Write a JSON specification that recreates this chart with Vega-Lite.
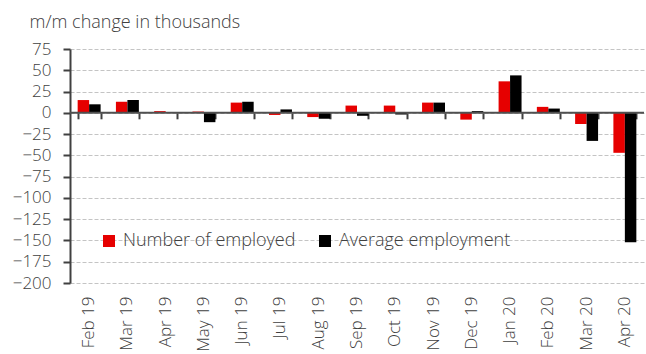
{
  "$schema": "https://vega.github.io/schema/vega-lite/v6.json",
  "width": 574,
  "height": 234,
  "autosize": {"type": "none"},
  "padding": {"left": 70, "top": 49, "right": 2, "bottom": 71},
  "background": "white",
  "config": {
    "view": {"stroke": null},
    "font": "Open Sans",
    "axis": {"labelFont": "Open Sans", "labelFontSize": 17, "labelColor": "#404040", "labelFontWeight": 300, "titleFont": "Open Sans", "labelOverlap": false},
    "legend": {"labelFont": "Open Sans"}
  },
  "data": {
    "values": [
      {"month": "Feb 19", "series": "Number of employed", "value": 15},
      {"month": "Feb 19", "series": "Average employment", "value": 10},
      {"month": "Mar 19", "series": "Number of employed", "value": 13},
      {"month": "Mar 19", "series": "Average employment", "value": 15},
      {"month": "Apr 19", "series": "Number of employed", "value": 2},
      {"month": "Apr 19", "series": "Average employment", "value": 0.5},
      {"month": "May 19", "series": "Number of employed", "value": 1.5},
      {"month": "May 19", "series": "Average employment", "value": -11},
      {"month": "Jun 19", "series": "Number of employed", "value": 12},
      {"month": "Jun 19", "series": "Average employment", "value": 13},
      {"month": "Jul 19", "series": "Number of employed", "value": -2.5},
      {"month": "Jul 19", "series": "Average employment", "value": 4},
      {"month": "Aug 19", "series": "Number of employed", "value": -5},
      {"month": "Aug 19", "series": "Average employment", "value": -7},
      {"month": "Sep 19", "series": "Number of employed", "value": 8.5},
      {"month": "Sep 19", "series": "Average employment", "value": -3.5},
      {"month": "Oct 19", "series": "Number of employed", "value": 8.5},
      {"month": "Oct 19", "series": "Average employment", "value": -2},
      {"month": "Nov 19", "series": "Number of employed", "value": 12},
      {"month": "Nov 19", "series": "Average employment", "value": 12},
      {"month": "Dec 19", "series": "Number of employed", "value": -8},
      {"month": "Dec 19", "series": "Average employment", "value": 2},
      {"month": "Jan 20", "series": "Number of employed", "value": 37},
      {"month": "Jan 20", "series": "Average employment", "value": 44},
      {"month": "Feb 20", "series": "Number of employed", "value": 7},
      {"month": "Feb 20", "series": "Average employment", "value": 5},
      {"month": "Mar 20", "series": "Number of employed", "value": -13},
      {"month": "Mar 20", "series": "Average employment", "value": -33},
      {"month": "Apr 20", "series": "Number of employed", "value": -47},
      {"month": "Apr 20", "series": "Average employment", "value": -152}
    ]
  },
  "layer": [
    {
      "mark": {"type": "bar"},
      "encoding": {
        "x": {
          "field": "month", "type": "nominal", "sort": null,
          "scale": {"paddingInner": 0.4, "paddingOuter": 0.2},
          "axis": {"title": null, "orient": "bottom", "labelAngle": -90, "domain": false, "ticks": false, "grid": false, "labelPadding": 13}
        },
        "xOffset": {"field": "series", "type": "nominal", "sort": ["Number of employed", "Average employment"], "scale": {"paddingInner": 0, "paddingOuter": 0}},
        "y": {
          "field": "value", "type": "quantitative",
          "scale": {"domain": [-200, 75], "nice": false, "zero": false},
          "axis": {
            "values": [-200, -175, -150, -125, -100, -75, -50, -25, 0, 25, 50, 75],
            "labelOverlap": false,
            "grid": true, "gridColor": "#c4c4c4", "gridDash": [4, 2], "gridWidth": 1,
            "domain": true, "domainColor": "#404040", "domainWidth": 2,
            "ticks": true, "tickColor": "#404040", "tickSize": 7, "tickWidth": 2,
            "labelPadding": 12,
            "title": "m/m change in thousands", "titleAngle": 0, "titleX": -41, "titleY": -22,
            "titleAlign": "left", "titleBaseline": "alphabetic", "titleFontSize": 18, "titleFontWeight": 300, "titleColor": "#404040"
          }
        },
        "color": {
          "field": "series", "type": "nominal",
          "scale": {"domain": ["Number of employed", "Average employment"], "range": ["#e60000", "#000000"]},
          "legend": {
            "title": null, "orient": "none", "legendX": 30, "legendY": 183, "direction": "horizontal",
            "symbolType": "square", "symbolSize": 144, "symbolStrokeWidth": 0, "symbolOpacity": 1,
            "labelFontSize": 18, "labelFontWeight": 300, "labelColor": "#404040", "labelOffset": 5, "columnPadding": 20, "labelLimit": 400
          }
        }
      }
    },
    {
      "data": {"values": [{}]},
      "mark": {"type": "rule", "color": "#505050", "strokeWidth": 2},
      "encoding": {
        "y": {
          "datum": 0, "type": "quantitative",
          "axis": {
            "values": [-200, -175, -150, -125, -100, -75, -50, -25, 0, 25, 50, 75],
            "labelOverlap": false,
            "grid": true, "gridColor": "#c4c4c4", "gridDash": [4, 2], "gridWidth": 1,
            "domain": true, "domainColor": "#404040", "domainWidth": 2,
            "ticks": true, "tickColor": "#404040", "tickSize": 7, "tickWidth": 2,
            "labelPadding": 12,
            "title": "m/m change in thousands", "titleAngle": 0, "titleX": -41, "titleY": -22,
            "titleAlign": "left", "titleBaseline": "alphabetic", "titleFontSize": 18, "titleFontWeight": 300, "titleColor": "#404040"
          }
        }
      }
    },
    {
      "mark": {"type": "tick", "opacity": 0},
      "encoding": {
        "x": {
          "field": "month", "type": "nominal", "sort": null,
          "axis": {"title": null, "orient": "top", "offset": -63.8, "labels": false, "domain": false, "grid": false,
                   "ticks": true, "tickBand": "extent", "tickSize": -6, "tickColor": "#404040", "tickWidth": 2}
        }
      }
    }
  ],
  "resolve": {"axis": {"x": "independent"}}
}
